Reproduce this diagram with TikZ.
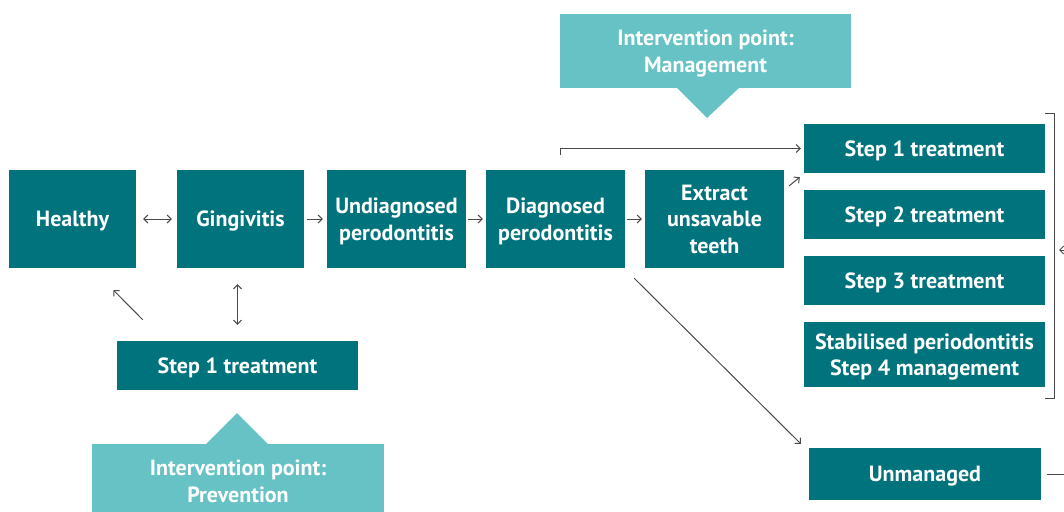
\documentclass[tikz,border=0pt]{standalone}
\usepackage{fontspec}
\setmainfont{PT Sans}
\usetikzlibrary{arrows.meta,calc}
\definecolor{dteal}{HTML}{00737C}
\definecolor{lteal}{HTML}{66C2C5}
\definecolor{arrgrey}{HTML}{4A4A4A}
\tikzset{
  box/.style={fill=dteal,text=white,font=\bfseries\fontsize{22}{26.5}\selectfont,align=center,inner sep=0pt,text depth=0pt},
  callout/.style={fill=lteal,text=white,font=\bfseries\fontsize{22}{26.5}\selectfont,align=center,inner sep=0pt,text depth=0pt},
  conn/.style={draw=arrgrey,line width=1pt},
  arr/.style={conn,-{Straight Barb[length=4pt,width=8pt]}},
  dblarr/.style={conn,{Straight Barb[length=4pt,width=8pt]}-{Straight Barb[length=4pt,width=8pt]}},
}
\begin{document}
\begin{tikzpicture}[x=1pt,y=-1pt]
\useasboundingbox (0,0) rectangle (1064,511);
% main row
\node[box,minimum width=127pt,minimum height=98pt] (healthy) at (72.5,219) {Healthy};
\node[box,minimum width=127pt,minimum height=98pt] (ging) at (240.5,219) {Gingivitis};
\node[box,minimum width=139pt,minimum height=98pt] (undiag) at (396.5,219) {Undiagnosed\\perodontitis};
\node[box,minimum width=139pt,minimum height=98pt] (diag) at (555.5,219) {Diagnosed\\perodontitis};
\node[box,minimum width=139pt,minimum height=98pt] (extract) at (714.5,219) {Extract\\unsavable\\teeth};
% right column
\node[box,minimum width=241pt,minimum height=49pt] (s1) at (924.5,148.5) {Step 1 treatment};
\node[box,minimum width=241pt,minimum height=49pt] (s2) at (924.5,214.5) {Step 2 treatment};
\node[box,minimum width=241pt,minimum height=49pt] (s3) at (924.5,280.5) {Step 3 treatment};
\node[box,minimum width=241pt,minimum height=65pt] (stab) at (924.5,354.5) {Stabilised periodontitis\\Step 4 management};
\node[box,minimum width=232pt,minimum height=52pt] (unm) at (925,474) {Unmanaged};
% bottom step 1
\node[box,minimum width=241pt,minimum height=49pt] (s1b) at (237.5,365.5) {Step 1 treatment};
% callouts
\fill[lteal] (676,87) -- (707,118) -- (740,87) -- cycle;
\node[callout,minimum width=291pt,minimum height=74pt] (mgmt) at (705.5,51) {Intervention point:\\Management};
\fill[lteal] (205,445) -- (237,413) -- (269,445) -- cycle;
\node[callout,minimum width=292pt,minimum height=74pt] (prev) at (238,481) {Intervention point:\\Prevention};
% connectors
\draw[dblarr] ([xshift=7pt]healthy.east) -- ([xshift=-5pt]ging.west);
\draw[arr] ([xshift=3pt]ging.east) -- ([xshift=-4pt]undiag.west);
\draw[arr] ([xshift=2pt]undiag.east) -- ([xshift=-3pt]diag.west);
\draw[arr] ([xshift=2pt]diag.east) -- ([xshift=-3pt]extract.west);
\draw[arr] ($(extract.north east)+(5,16)$) -- ($(s1.south west)+(-4,4)$);
\draw[arr] ($(diag.north)+(4.5,-15)$) |- ([xshift=-3pt]s1.west);
\draw[arr] ($(diag.south east)+(9,10)$) -- ($(unm.north west)+(-8,-4)$);
\draw[arr] ($(s1b.north west)+(26,-21)$) -- ($(healthy.south)+(41,22)$);
\draw[dblarr] ($(s1b.north)+(0,-16)$) -- ($(s1b.north|-ging.south)+(0,16)$);
% bracket
\draw[conn] ([yshift=10pt]s1.north east) -- ++(9,0) |- ([yshift=-11pt]stab.south east);
\coordinate (bin) at (1070,250);
\coordinate (bend) at (1059,250);
\draw[arr] (bin) -- (bend);
\coordinate (uout) at (1070,474);
\draw[conn] ([xshift=6pt]unm.east) -- (uout);
\end{tikzpicture}
\end{document}
